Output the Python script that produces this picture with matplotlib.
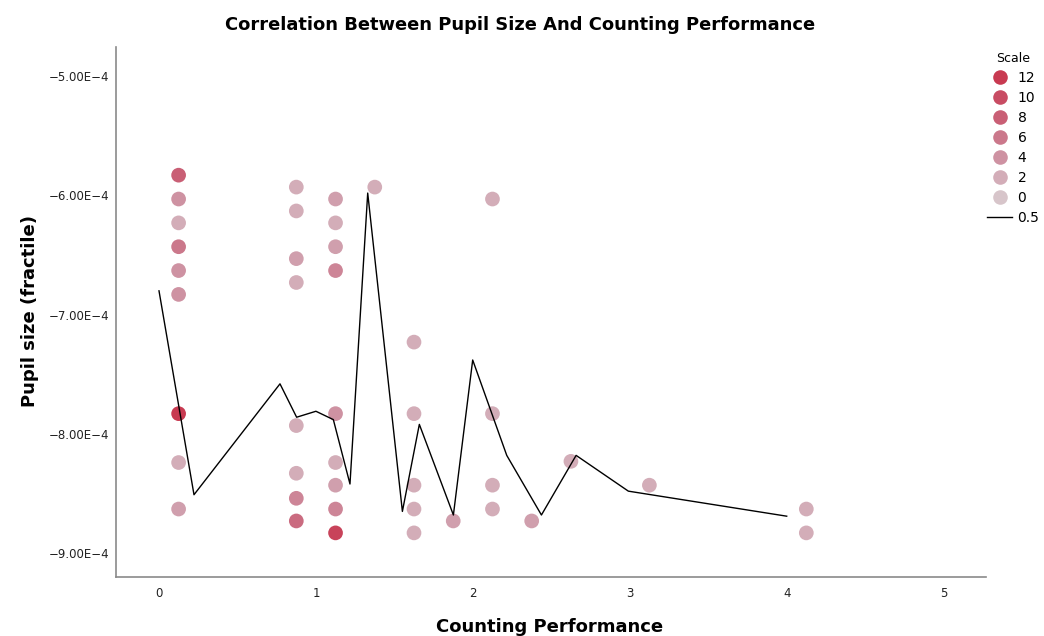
import matplotlib
matplotlib.use("Agg")
import matplotlib.pyplot as plt
from matplotlib.colors import LinearSegmentedColormap
from matplotlib.lines import Line2D
from matplotlib.ticker import FuncFormatter, FixedLocator

# ---- data ----
point_x = [0.125]*9 + [0.875]*8 + [1.125]*9 + [1.375] + [1.625]*5 + [1.875] + [2.125]*4 + [2.375] + [2.625] + [3.125] + [4.125]*2
point_y = [-5.83, -6.03, -6.23, -6.43, -6.63, -6.83, -7.83, -8.24, -8.63,
           -5.93, -6.13, -6.53, -6.73, -7.93, -8.33, -8.54, -8.73,
           -6.03, -6.23, -6.43, -6.63, -7.83, -8.24, -8.43, -8.63, -8.83,
           -5.93,
           -7.23, -7.83, -8.43, -8.63, -8.83,
           -8.73,
           -6.03, -7.83, -8.43, -8.63,
           -8.73,
           -8.23,
           -8.43,
           -8.63, -8.83]
point_scale = [8, 4, 2, 6, 4, 4, 12, 2, 3,
               2, 2, 3, 2, 2, 2, 5, 7,
               3, 2, 3, 5, 4, 2, 3, 5, 11,
               2,
               2, 2, 2, 2, 2,
               3,
               2, 2, 2, 2,
               3,
               2,
               2,
               2, 2]
line_x = [0.0, 0.223, 0.771, 0.877, 1.0, 1.111, 1.217, 1.330, 1.551, 1.659,
          1.876, 1.999, 2.216, 2.437, 2.658, 2.991, 4.0]
line_y = [-6.80, -8.51, -7.58, -7.86, -7.81, -7.88, -8.42, -5.98, -8.65, -7.92,
          -8.68, -7.38, -8.18, -8.68, -8.18, -8.48, -8.69]
legend_scales = [12, 10, 8, 6, 4, 2, 0]
x_ticks = [0, 1, 2, 3, 4, 5]
y_ticks = [-5.0, -6.0, -7.0, -8.0, -9.0]
SCALE_E = 1e-4

title = "Correlation Between Pupil Size And Counting Performance"
xlabel = "Counting Performance"
ylabel = "Pupil size (fractile)"

cmap = LinearSegmentedColormap.from_list(
    "scale", ["#d7c5ca", "#d3adb8", "#ce92a2", "#cb788b", "#c95f75", "#c84c63", "#c83a51"])

fig = plt.figure(figsize=(10.44, 6.36), dpi=100)
ax = fig.add_axes([116/1044, 1-577/636, (986-116)/1044, (577-47)/636])

py = [v*SCALE_E for v in point_y]
ax.scatter(point_x, py, c=point_scale, cmap=cmap, vmin=0, vmax=12,
           s=112, edgecolors='none', zorder=2)
ax.plot(line_x, [v*SCALE_E for v in line_y], color='black', lw=1.0, zorder=3)

ax.set_xlim(-0.274, 5.27)
ax.set_ylim(-9.2e-4, -4.755e-4)
ax.xaxis.set_major_locator(FixedLocator(x_ticks))
ax.yaxis.set_major_locator(FixedLocator([v*SCALE_E for v in y_ticks]))
ax.yaxis.set_major_formatter(FuncFormatter(lambda v, p: f"{v/SCALE_E:.2f}E\u22124".replace("-", "\u2212")))
ax.tick_params(length=0, labelsize=8.5, colors='#222222')
ax.tick_params(axis='y', pad=5)
ax.tick_params(axis='x', pad=7)
for s in ['top', 'right']:
    ax.spines[s].set_visible(False)
for s in ['left', 'bottom']:
    ax.spines[s].set_color('#8a8a8a')
    ax.spines[s].set_linewidth(1.2)

fig.text(520/1044, 1-25/636, title, ha='center', va='center', fontsize=12.9, fontweight='bold')
fig.text(550/1044, 1-627/636, xlabel, ha='center', va='center', fontsize=13, fontweight='bold')
fig.text(30/1044, 1-311/636, ylabel, ha='center', va='center', fontsize=13, fontweight='bold', rotation=90)

handles = [Line2D([], [], marker='o', ls='none', markersize=10.5, markeredgewidth=0,
                  markerfacecolor=cmap(v/12)) for v in legend_scales]
handles.append(Line2D([], [], color='black', lw=1.0))
labels = [str(v) for v in legend_scales] + ["0.5"]
leg = fig.legend(handles, labels, title="Scale", loc='upper left',
                 bbox_to_anchor=(987/1044, 1-52/636), frameon=False,
                 fontsize=10, title_fontsize=9, handlelength=1.8, handletextpad=0.4,
                 labelspacing=0.43, borderaxespad=0, borderpad=0)
leg._legend_box.align = "center"

fig.savefig("out.png", dpi=100)
